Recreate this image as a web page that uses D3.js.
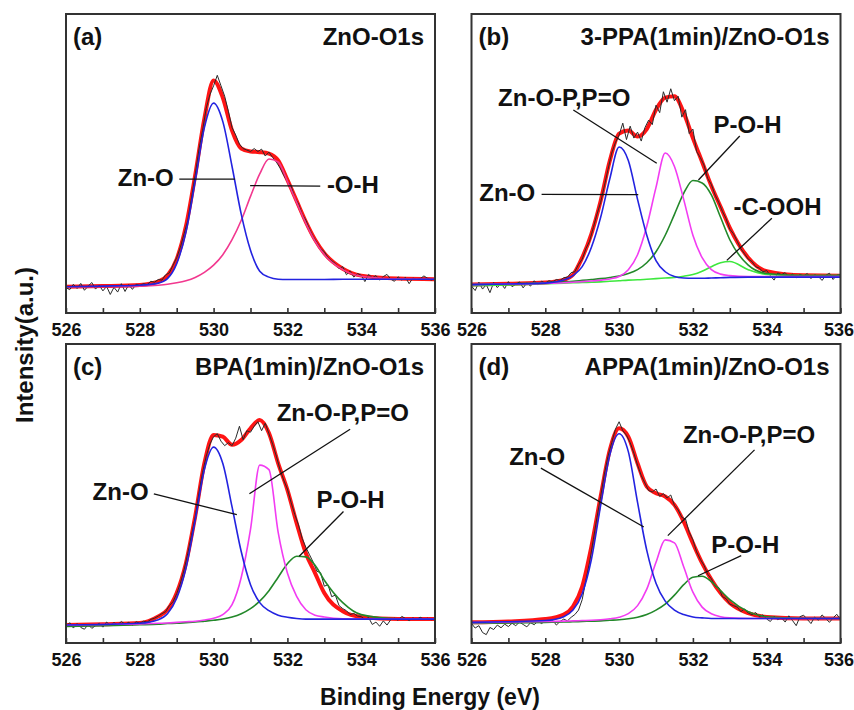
<!DOCTYPE html>
<html>
<head>
<meta charset="utf-8">
<script src="https://cdn.jsdelivr.net/npm/d3@7"></script>
<style>
  body { margin: 0; background: #fff; }
  text { font-family: "Liberation Sans", Arial, sans-serif; font-weight: bold; fill: #111; }
</style>
</head>
<body>
<svg id="chart" width="854" height="710"></svg>
<script>
// ---- data (binding energy in eV, intensity in arbitrary units 0-100) ----
var panelLabels = ["(a)", "(b)", "(c)", "(d)"];
var panelTitles = ["ZnO-O1s", "3-PPA(1min)/ZnO-O1s", "BPA(1min)/ZnO-O1s", "APPA(1min)/ZnO-O1s"];
var xTicks = [526, 527, 528, 529, 530, 531, 532, 533, 534, 535, 536];

// energy grid of the fitted curves
var fitEnergy = [526, 527, 528, 528.5, 528.75, 529, 529.25, 529.5, 529.75, 530, 530.25, 530.5, 530.75,
                 531, 531.25, 531.5, 531.75, 532, 532.25, 532.5, 532.75, 533, 533.5, 534, 535, 536];

// (a) ZnO
var fitA_env = [8.8, 9.0, 9.4, 10.5, 12.5, 18, 29, 46, 65, 77.8, 72, 61, 55, 54, 53.8, 53.3, 51, 44.5, 37.5, 30.5, 24.5, 20, 14.8, 12.5, 11.5, 11.3];
var fitA_ZnO = [8.8, 9.0, 9.3, 10.0, 11.5, 16.5, 27, 44, 62, 70.2, 64, 49, 33, 21, 14, 12, 11.3, 11.2, 11.2, 11.2, 11.2, 11.2, 11.3, 11.3, 11.3, 11.3];
var fitA_OH  = [8.7, 8.8, 9.0, 9.3, 9.6, 10.1, 10.8, 11.9, 13.6, 16.0, 19.5, 24.5, 31, 39, 46.5, 51.5, 50.5, 44, 37, 30, 24, 19.5, 14.5, 12.3, 11.4, 11.3];

// (b) 3-PPA
var fitB_env  = [9.5, 9.8, 10.2, 11.1, 12.8, 18.5, 26.5, 37.5, 51, 60, 61, 59, 61.5, 68, 72, 72.5, 67, 58.5, 50.5, 42.5, 35.5, 28.5, 18.5, 14, 12.6, 12.5];
var fitB_ZnO  = [9.5, 9.7, 10.0, 11.0, 12.5, 15.5, 22, 32, 45, 55.5, 51, 38, 26, 17.5, 13.8, 12.2, 11.7, 11.6, 11.6, 11.7, 11.8, 11.9, 12.0, 12.0, 12.0, 12.0];
var fitB_ZnOP = [9.5, 9.7, 9.9, 10.1, 10.3, 10.5, 10.7, 11.0, 11.4, 12.2, 14.5, 19.5, 29, 42, 53.5, 49, 38, 26, 18.5, 14.5, 13, 12.5, 12.2, 12.2, 12.2, 12.2];
var fitB_POH  = [9.5, 9.8, 10.1, 10.4, 10.6, 10.9, 11.2, 11.5, 11.9, 12.4, 13.2, 14.5, 16.8, 20.5, 26, 33, 40, 44.3, 43.5, 39.5, 32, 24.5, 16, 13.2, 12.5, 12.5];
var fitB_COOH = [9.1, 9.4, 9.8, 10.0, 10.1, 10.2, 10.3, 10.4, 10.6, 10.8, 11.0, 11.1, 11.3, 11.5, 11.7, 11.9, 12.3, 12.9, 14.0, 15.5, 16.8, 17.2, 14.5, 12.9, 12.5, 12.5];

// (c) BPA
var fitC_env  = [6.0, 6.3, 6.7, 8.9, 11.1, 16.7, 26.7, 42.3, 60.1, 69.6, 69, 66.3, 67.9, 71.8, 74.6, 70.2, 60.1, 51.2, 40.1, 30, 23.4, 16.7, 10.6, 8.7, 8.0, 8.0];
var fitC_ZnO  = [6.0, 6.2, 6.6, 7.8, 9.8, 15, 25, 41, 58, 65.5, 60, 45.5, 30.5, 19.5, 13.5, 10.8, 9.3, 8.6, 8.2, 8.0, 8.0, 8.0, 8.0, 8.0, 8.0, 8.0];
var fitC_ZnOP = [6.0, 6.2, 6.4, 6.6, 6.7, 6.9, 7.1, 7.3, 7.7, 8.3, 9.5, 12.8, 22, 38, 59.5, 58, 37, 23.4, 15.6, 11.1, 9.3, 8.7, 8.1, 8.0, 8.0, 8.0];
var fitC_POH  = [5.5, 5.8, 6.1, 6.3, 6.5, 6.6, 6.8, 7.0, 7.3, 7.6, 8.0, 8.7, 9.8, 11.5, 14, 17.5, 22, 26.5, 29, 28.8, 26, 21, 13.5, 9.5, 8.1, 8.0];

// (d) APPA
var fitD_env  = [6.9, 7.2, 8.0, 9.5, 12.2, 18.9, 32.3, 49, 64.6, 71.8, 69, 60.1, 52.3, 50.1, 49, 46.2, 40.6, 33.4, 26.7, 21.2, 16.7, 13.4, 10, 8.7, 8.2, 8.2];
var fitD_ZnO  = [6.9, 7.1, 7.5, 8.8, 11, 16.5, 28, 46, 63, 70, 64, 47, 31, 20, 14, 11, 9.5, 8.7, 8.4, 8.2, 8.2, 8.2, 8.2, 8.2, 8.2, 8.2];
var fitD_ZnOP = [6.8, 7.0, 7.2, 7.3, 7.4, 7.5, 7.6, 7.8, 8.1, 8.6, 9.8, 12.5, 18, 27, 34.5, 33.5, 25.5, 17, 12, 9.8, 8.8, 8.4, 8.2, 8.2, 8.2, 8.2];
var fitD_POH  = [6.5, 6.7, 6.9, 7.0, 7.1, 7.2, 7.3, 7.4, 7.6, 7.8, 8.1, 8.6, 9.5, 11, 13, 16, 19.5, 22, 22.3, 20.5, 17.5, 14.5, 10.5, 8.8, 8.3, 8.2];

// measured spectra, 526.0 ... 536.0 eV every 0.1 eV
var rawEnergy = d3.range(5260, 5361).map(function(d) { return d / 10; });
var rawA = [
  8.5, 7.8, 9.6, 8.2, 9.9, 7.6, 9.0, 10.2, 8.0, 9.3,
  7.4, 8.9, 6.2, 8.6, 7.0, 9.8, 7.2, 9.5, 7.9, 9.6,
  9.2, 9.8, 9.5, 10.6, 10.3, 11.2, 11.0, 12.8, 13.4, 16.0,
  18.5, 22.0, 26.5, 31.0, 38.5, 46.0, 54.5, 61.0, 68.5, 73.0,
  76.0, 79.5, 76.0, 72.5, 67.5, 62.0, 59.5, 56.5, 55.0, 54.5,
  54.0, 55.0, 54.0, 54.8, 52.5, 53.8, 52.0, 50.5, 48.5, 46.0,
  44.0, 42.5, 38.5, 36.5, 33.0, 31.0, 28.0, 25.5, 23.5, 21.5,
  20.5, 18.5, 17.5, 16.5, 14.8, 15.5, 12.8, 14.0, 12.0, 13.2,
  12.6, 10.5, 12.9, 11.8, 12.5, 11.0, 12.2, 12.9, 11.3, 10.6,
  12.1, 11.0, 11.9, 9.8, 11.7, 11.2, 11.5, 12.4, 11.6, 11.0,
  11.5];
var rawB = [
  9.0, 7.5, 10.3, 8.0, 9.5, 6.8, 10.2, 8.5, 9.9, 8.2,
  10.5, 8.8, 9.6, 10.4, 8.4, 10.1, 9.0, 10.8, 9.5, 10.6,
  10.0, 10.8, 10.4, 11.2, 10.9, 11.8, 12.0, 13.5, 13.8, 16.2,
  18.0, 21.5, 24.0, 28.5, 33.0, 37.0, 42.5, 48.0, 53.5, 57.0,
  59.5, 63.5, 58.0, 62.5, 58.5, 60.5, 57.5, 62.0, 64.5, 63.0,
  69.5, 67.0, 74.0, 70.5, 75.0, 71.0, 72.5, 65.5, 68.0, 60.0,
  61.5, 54.0, 52.0, 49.5, 45.0, 43.0, 39.5, 37.0, 34.0, 31.5,
  28.0, 26.5, 24.0, 21.5, 19.8, 18.0, 17.2, 15.5, 15.0, 13.8,
  14.2, 12.5, 11.0, 13.4, 12.8, 13.5, 12.1, 13.0, 11.8, 12.9,
  12.4, 13.2, 11.5, 12.8, 12.2, 10.9, 12.6, 13.3, 11.2, 12.7,
  12.8];
var rawC = [
  5.5, 6.8, 5.0, 6.5, 5.2, 4.6, 6.2, 4.9, 5.8, 6.6,
  5.3, 7.0, 5.9, 6.8, 6.1, 7.2, 6.3, 6.9, 6.0, 7.1,
  6.6, 7.3, 7.0, 7.9, 8.3, 9.0, 9.8, 10.5, 12.5, 13.8,
  16.5, 20.0, 24.5, 30.0, 36.0, 42.0, 50.0, 57.0, 62.5, 66.5,
  69.0, 70.0, 67.5, 66.0, 67.0, 66.0, 68.5, 72.5, 68.0, 71.0,
  70.5, 72.5, 74.0, 71.0, 73.5, 70.0, 66.5, 62.5, 58.0, 54.5,
  51.5, 47.0, 43.0, 39.5, 35.0, 32.0, 29.5, 27.0, 24.0, 23.5,
  19.0, 19.5, 15.5, 16.0, 12.5, 11.5, 10.8, 9.5, 9.9, 9.0,
  8.8, 7.9, 8.5, 6.2, 7.0, 5.6, 7.4, 6.0, 7.8, 8.3,
  7.6, 8.9, 8.2, 7.5, 8.4, 7.9, 8.6, 8.0, 8.3, 7.8,
  8.1];
var rawD = [
  6.5, 5.0, 5.8, 3.5, 2.8, 5.2, 4.5, 6.0, 5.1, 6.3,
  5.5, 6.6, 5.8, 7.0, 6.2, 5.4, 6.8, 6.1, 7.3, 6.5,
  7.4, 6.8, 7.6, 6.0, 7.2, 8.0, 7.4, 8.6, 9.5, 11.0,
  14.5, 21.0, 27.0, 34.5, 42.0, 49.0, 56.5, 62.5, 67.0, 71.5,
  74.0, 71.0, 69.5, 67.0, 63.5, 59.5, 56.0, 53.5, 51.0, 50.5,
  51.5, 49.0, 50.0, 48.5, 49.5, 46.0, 44.5, 42.0, 41.5, 37.0,
  34.5, 30.5, 28.0, 26.0, 23.0, 21.5, 19.0, 18.5, 15.5, 14.8,
  13.0, 12.5, 12.0, 10.5, 11.4, 10.0, 9.5, 10.2, 8.8, 9.4,
  8.0, 7.2, 8.9, 7.8, 8.5, 7.0, 9.1, 7.5, 5.8, 8.8,
  9.3, 7.9, 6.5, 8.7, 7.6, 9.4, 8.2, 6.9, 8.4, 9.6,
  7.8];

// peak labels: text position and leader line, in data units (eV, intensity)
var notesA = [
  {text: "Zn-O", e: 528.92, v: 42.5, end: true, e1: 529.07, v1: 44.8, e2: 530.58, v2: 44.8},
  {text: "-O-H", e: 533.07, v: 40.0, e1: 530.99, v1: 42.6, e2: 532.89, v2: 42.4}
];
var notesB = [
  {text: "Zn-O-P,P=O", e: 526.72, v: 69.3, e1: 528.76, v1: 67.9, e2: 531.02, v2: 50.1},
  {text: "Zn-O", e: 526.21, v: 37.3, e1: 527.90, v1: 39.7, e2: 530.52, v2: 39.6},
  {text: "P-O-H", e: 532.56, v: 60.1, e1: 533.27, v1: 59.2, e2: 532.15, v2: 44.5},
  {text: "-C-OOH", e: 533.10, v: 32.9, e1: 534.14, v1: 31.7, e2: 532.92, v2: 17.6}
];
var notesC = [
  {text: "Zn-O", e: 526.72, v: 47.7, e1: 528.38, v1: 49.9, e2: 530.63, v2: 42.9},
  {text: "Zn-O-P,P=O", e: 531.71, v: 74.1, e1: 533.70, v1: 71.5, e2: 530.97, v2: 49.9},
  {text: "P-O-H", e: 532.79, v: 45.1, e1: 533.52, v1: 44.0, e2: 532.32, v2: 29.0}
];
var notesD = [
  {text: "Zn-O", e: 527.02, v: 59.6, e1: 527.88, v1: 58.5, e2: 530.67, v2: 38.8},
  {text: "Zn-O-P,P=O", e: 531.73, v: 67.0, e1: 533.67, v1: 64.6, e2: 531.32, v2: 35.9},
  {text: "P-O-H", e: 532.50, v: 30.1, e1: 533.31, v1: 29.2, e2: 532.14, v2: 22.5}
];

// ---- layout / styles ----
var plotW = 369, plotH = 299;
var colX = [66, 471.5], rowY = [14, 344];

var styles = {
  env:  {color: "#ff1414", w: 4},
  ZnO:  {color: "#2323e0", w: 1.6},
  OH:   {color: "#f2388f", w: 1.6},
  ZnOP: {color: "#f23cf2", w: 1.6},
  POH:  {color: "#23882a", w: 1.6},
  COOH: {color: "#3ee83e", w: 1.6}
};

var panels = [
  {col: 0, row: 0, raw: rawA, notes: notesA, fits: [["env", fitA_env], ["ZnO", fitA_ZnO], ["OH", fitA_OH]]},
  {col: 1, row: 0, raw: rawB, notes: notesB, fits: [["env", fitB_env], ["ZnO", fitB_ZnO], ["ZnOP", fitB_ZnOP], ["POH", fitB_POH], ["COOH", fitB_COOH]]},
  {col: 0, row: 1, raw: rawC, notes: notesC, fits: [["env", fitC_env], ["ZnO", fitC_ZnO], ["ZnOP", fitC_ZnOP], ["POH", fitC_POH]]},
  {col: 1, row: 1, raw: rawD, notes: notesD, fits: [["env", fitD_env], ["ZnO", fitD_ZnO], ["ZnOP", fitD_ZnOP], ["POH", fitD_POH]]}
];

var svg = d3.select("#chart");

var x = d3.scaleLinear().domain([526, 536]).range([0, plotW]);
var y = d3.scaleLinear().domain([0, 100]).range([plotH, 0]);

var fitLine = d3.line()
  .x(function(d, i) { return x(fitEnergy[i]); })
  .y(function(d) { return y(d); })
  .curve(d3.curveMonotoneX);

var rawLine = d3.line()
  .x(function(d, i) { return x(rawEnergy[i]); })
  .y(function(d) { return y(d); });

panels.forEach(function(p, k) {
  var g = svg.append("g")
    .attr("transform", "translate(" + colX[p.col] + "," + rowY[p.row] + ")");

  // envelope first, then the measured data, then the components
  var env = p.fits[0];
  g.append("path")
    .attr("d", fitLine(env[1]))
    .attr("fill", "none")
    .attr("stroke", styles.env.color)
    .attr("stroke-width", styles.env.w)
    .attr("stroke-linejoin", "round");

  g.append("path")
    .attr("d", rawLine(p.raw))
    .attr("fill", "none")
    .attr("stroke", "#2a2a2a")
    .attr("stroke-width", 1);

  p.fits.slice(1).reverse().forEach(function(f) {
    g.append("path")
      .attr("d", fitLine(f[1]))
      .attr("fill", "none")
      .attr("stroke", styles[f[0]].color)
      .attr("stroke-width", styles[f[0]].w);
  });

  // x axis with inward ticks
  var axis = g.append("g")
    .attr("transform", "translate(0," + plotH + ")")
    .call(d3.axisBottom(x)
      .tickValues(xTicks)
      .tickSize(-5)
      .tickSizeOuter(0)
      .tickPadding(10)
      .tickFormat(function(d) { return d % 2 === 0 ? d : ""; }));
  axis.selectAll(".tick line").attr("stroke", "#333").attr("stroke-width", 1.6);
  axis.selectAll(".tick text")
    .style("font-size", "18px")
    .style("font-family", '"Liberation Sans", Arial, sans-serif')
    .style("font-weight", "bold")
    .attr("fill", "#111");
  axis.select(".domain").remove();
  // last label of the right column sits at the page edge
  if (p.col === 1) {
    axis.selectAll(".tick text").filter(function(d) { return d === 536; }).attr("dx", -2);
  }

  // frame
  g.append("rect")
    .attr("width", plotW)
    .attr("height", plotH)
    .attr("fill", "none")
    .attr("stroke", "#333")
    .attr("stroke-width", 2);

  // panel label and title
  g.append("text")
    .attr("x", 7)
    .attr("y", 31)
    .style("font-size", "24px")
    .text(panelLabels[k]);
  g.append("text")
    .attr("x", plotW - 11)
    .attr("y", 31)
    .attr("text-anchor", "end")
    .style("font-size", "24px")
    .text(panelTitles[k]);

  // peak labels
  p.notes.forEach(function(n) {
    g.append("line")
      .attr("x1", x(n.e1)).attr("y1", y(n.v1))
      .attr("x2", x(n.e2)).attr("y2", y(n.v2))
      .attr("stroke", "#111")
      .attr("stroke-width", 1.3);
    g.append("text")
      .attr("x", x(n.e))
      .attr("y", y(n.v))
      .attr("text-anchor", n.end ? "end" : "start")
      .style("font-size", "24px")
      .text(n.text);
  });
});

// axis titles
svg.append("text")
  .attr("x", 430)
  .attr("y", 705)
  .attr("text-anchor", "middle")
  .style("font-size", "23px")
  .text("Binding Energy (eV)");

svg.append("text")
  .attr("transform", "translate(33,345) rotate(-90)")
  .attr("text-anchor", "middle")
  .style("font-size", "24px")
  .text("Intensity(a.u.)");
</script>
</body>
</html>
